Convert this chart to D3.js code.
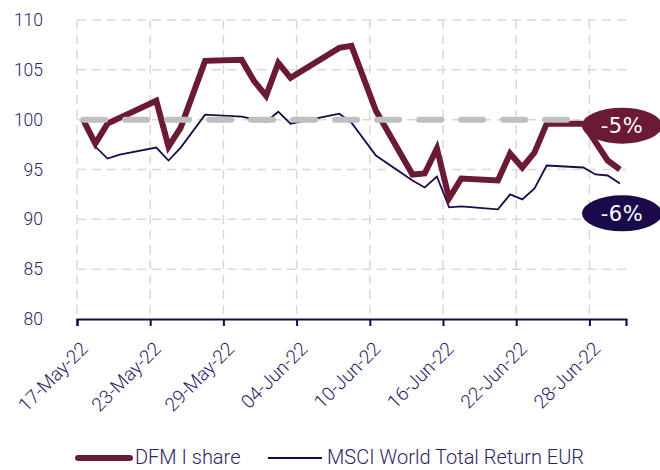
<!DOCTYPE html>
<meta charset="utf-8">
<style>
body { margin: 0; background: #fff; }
text { font-family: Roboto, "Liberation Sans", sans-serif; font-weight: 300; fill: #2e2366; }
.tag { font-family: "DejaVu Sans", sans-serif; font-weight: 400; fill: #fff; }
</style>
<svg width="660" height="470"></svg>
<script src="https://d3js.org/d3.v7.min.js"></script>
<script>

// tick labels on the date axis
var tickLabels = ["17-May-22","23-May-22","29-May-22","04-Jun-22","10-Jun-22","16-Jun-22","22-Jun-22","28-Jun-22"];
var yTicks = [80, 85, 90, 95, 100, 105, 110];

// DFM I share (rebased to 100)
var dfmDates = ["17-May-22","18-May-22","19-May-22","23-May-22","24-May-22","25-May-22","27-May-22","30-May-22",
  "31-May-22","01-Jun-22","02-Jun-22","03-Jun-22","07-Jun-22","08-Jun-22","10-Jun-22","13-Jun-22","14-Jun-22",
  "15-Jun-22","16-Jun-22","17-Jun-22","20-Jun-22","21-Jun-22","22-Jun-22","23-Jun-22","24-Jun-22","27-Jun-22",
  "29-Jun-22","30-Jun-22"];
var dfmValues = [100, 97.6, 99.6, 101.9, 97.3, 99.2, 105.9, 106.0,
  103.9, 102.4, 105.7, 104.2, 107.2, 107.4, 100.9, 94.5, 94.6,
  97.1, 92.1, 94.1, 93.9, 96.6, 95.2, 96.7, 99.6, 99.6,
  95.9, 95.0];

// MSCI World Total Return EUR (rebased to 100)
var msciDates = ["17-May-22","18-May-22","19-May-22","20-May-22","23-May-22","24-May-22","25-May-22","27-May-22",
  "30-May-22","01-Jun-22","02-Jun-22","03-Jun-22","07-Jun-22","08-Jun-22","10-Jun-22","13-Jun-22","14-Jun-22",
  "15-Jun-22","16-Jun-22","17-Jun-22","20-Jun-22","21-Jun-22","22-Jun-22","23-Jun-22","24-Jun-22","27-Jun-22",
  "28-Jun-22","29-Jun-22","30-Jun-22"];
var msciValues = [100, 97.3, 96.1, 96.5, 97.2, 95.9, 97.2, 100.5,
  100.3, 99.8, 100.8, 99.6, 100.6, 99.7, 96.4, 93.9, 93.2,
  94.3, 91.2, 91.3, 91.0, 92.5, 92.0, 93.1, 95.4, 95.2,
  94.5, 94.4, 93.6];

var refValue = 100;
var endLabels = ["-5%", "-6%"];

var parse = d3.utcParse("%d-%b-%y");
var svg = d3.select("svg");

var x = d3.scaleUtc()
  .domain([parse("17-May-22"), parse("01-Jul-22")])
  .range([77, 626]);
var y = d3.scaleLinear().domain([80, 110]).range([319, 20]);

// points sit in the middle of their day
function xp(s) { return x(d3.utcHour.offset(parse(s), 12)); }

var tickDates = tickLabels.map(parse);

// grid
var grid = svg.append("g").attr("stroke", "#d9d9d9").attr("stroke-width", 1.5).attr("stroke-dasharray", "9,6");
grid.selectAll(".v").data(tickDates).enter().append("line")
  .attr("x1", d => x(d)).attr("x2", d => x(d)).attr("y1", y(110)).attr("y2", y(80));
grid.selectAll(".h").data(yTicks.filter(d => d > 80)).enter().append("line")
  .attr("x1", 77).attr("x2", 626).attr("y1", d => y(d)).attr("y2", d => y(d));

// y labels
svg.append("g").selectAll("text").data(yTicks).enter().append("text")
  .attr("x", 43).attr("y", d => y(d)).attr("dy", "0.35em")
  .attr("text-anchor", "end").style("font-size", "17.5px")
  .text(d => d);

// x axis
var xAxis = svg.append("g").attr("transform", "translate(0," + y(80) + ")")
  .call(d3.axisBottom(x).tickValues(tickDates).tickSize(7).tickFormat(""));
xAxis.select(".domain").attr("stroke", "#1a0a4a").attr("stroke-width", 2.2);
xAxis.selectAll(".tick line").attr("stroke", "#1a0a4a").attr("stroke-width", 2);

svg.append("g").selectAll("text").data(tickLabels).enter().append("text")
  .attr("transform", d => "translate(" + (x(parse(d)) + 12) + "," + 350 + ") rotate(-45)")
  .attr("text-anchor", "end").style("font-size", "19px")
  .text(d => d);

// lines
var line = d3.line().x(d => xp(d[0])).y(d => y(d[1]));

svg.append("path").datum(d3.zip(msciDates, msciValues))
  .attr("fill", "none").attr("stroke", "#1a0a4a").attr("stroke-width", 1.8)
  .attr("d", line);

svg.append("path").datum(d3.zip(dfmDates, dfmValues))
  .attr("fill", "none").attr("stroke", "#6b1a35").attr("stroke-width", 6)
  .attr("d", line);

// 100 reference
svg.append("line")
  .attr("x1", xp(dfmDates[0])).attr("x2", xp(dfmDates[dfmDates.length - 1]))
  .attr("y1", y(refValue)).attr("y2", y(refValue))
  .attr("stroke", "#bfbfbf").attr("stroke-width", 6)
  .attr("stroke-dasharray", "22,20").attr("stroke-linecap", "round");

// end labels
var tags = [
  {t: endLabels[0], v: 99.4, c: "#6b1a35"},
  {t: endLabels[1], v: 90.6, c: "#1a0a4a"}
];
var tg = svg.append("g").selectAll("g").data(tags).enter().append("g")
  .attr("transform", d => "translate(622," + y(d.v) + ")");
tg.append("ellipse").attr("rx", 40).attr("ry", 18).attr("fill", d => d.c);
tg.append("text").attr("class", "tag").attr("text-anchor", "middle").attr("dy", "0.36em")
  .style("font-size", "21px").style("letter-spacing", "0.5px").text(d => d.t);

// legend
var lg = svg.append("g");
lg.append("line").attr("x1", 78).attr("x2", 130).attr("y1", 458).attr("y2", 458)
  .attr("stroke", "#6b1a35").attr("stroke-width", 6).attr("stroke-linecap", "round");
lg.append("text").attr("x", 135).attr("y", 464).style("font-size", "20px").text("DFM I share");
lg.append("line").attr("x1", 268).attr("x2", 322).attr("y1", 458).attr("y2", 458)
  .attr("stroke", "#1a0a4a").attr("stroke-width", 1.8);
lg.append("text").attr("x", 327).attr("y", 464).style("font-size", "20px").text("MSCI World Total Return EUR");

</script>
